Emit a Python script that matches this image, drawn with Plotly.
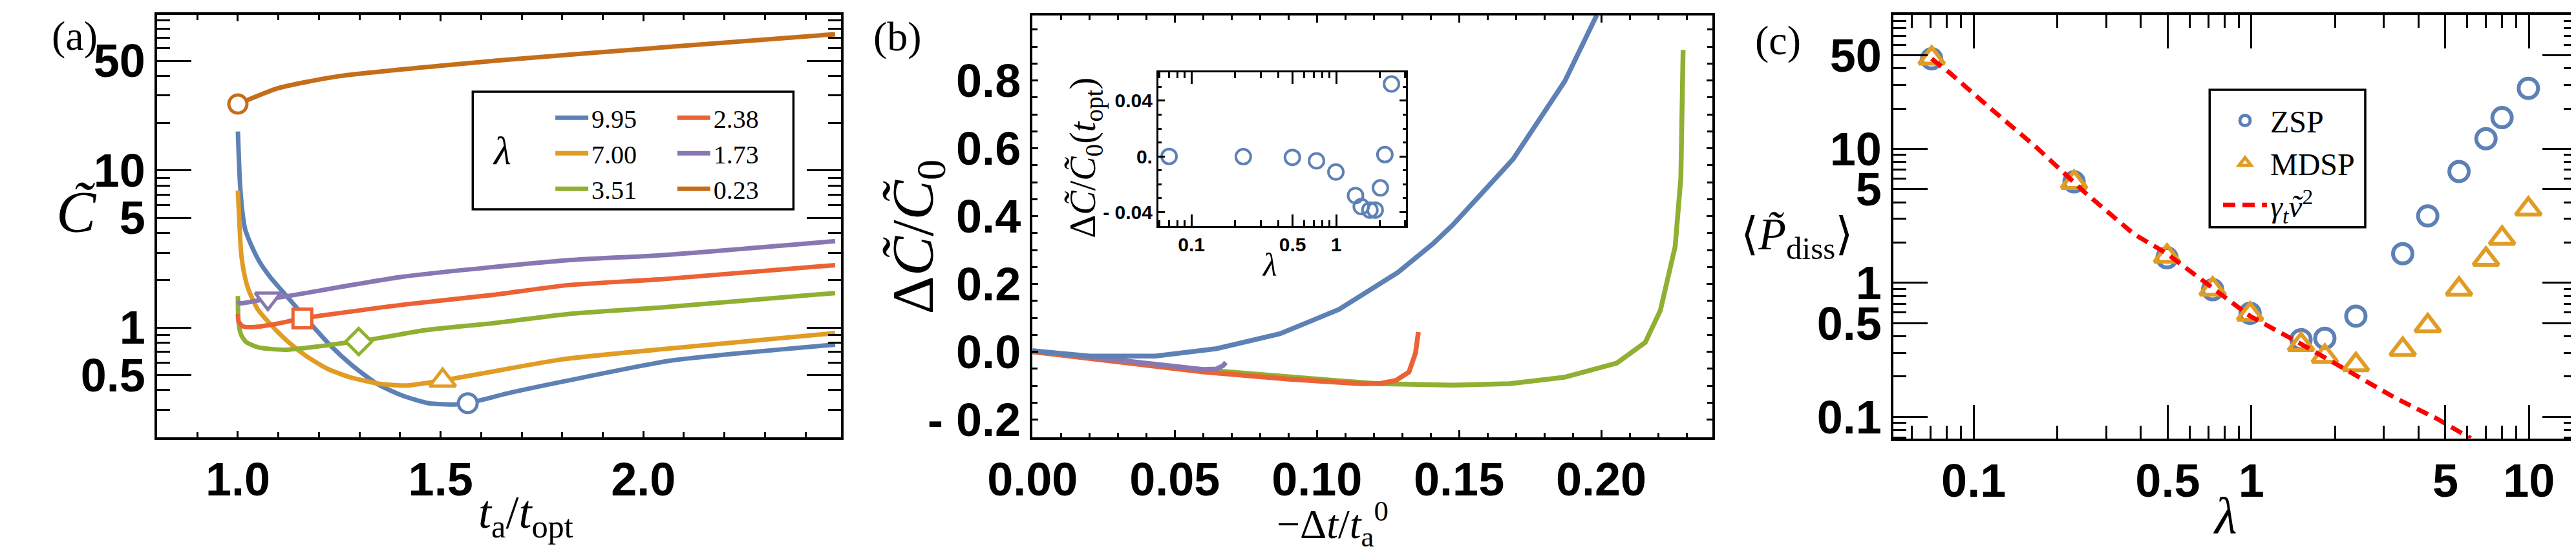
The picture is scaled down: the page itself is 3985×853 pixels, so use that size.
import plotly.graph_objects as go

W, H = 3985, 853

# ---------------- data: panel (a) ----------------
lam_a = ["9.95", "7.00", "3.51", "2.38", "1.73", "0.23"]

a_x_995 = [1.0, 1.005, 1.0105, 1.018, 1.032, 1.053, 1.079, 1.111, 1.143, 1.185, 1.228, 1.280, 1.344, 1.407, 1.471, 1.535, 1.567, 1.672, 1.810, 2.070, 2.473]
a_y_995 = [17.7, 8.44, 5.61, 4.22, 3.39, 2.63, 2.11, 1.69, 1.36, 1.02, 0.77, 0.58, 0.437, 0.368, 0.330, 0.324, 0.330, 0.385, 0.458, 0.618, 0.78]

a_x_700 = [1.0, 1.004, 1.008, 1.016, 1.026, 1.048, 1.079, 1.122, 1.169, 1.222, 1.280, 1.354, 1.418, 1.505, 1.619, 1.802, 2.137, 2.473]
a_y_700 = [7.45, 4.5, 2.99, 2.18, 1.75, 1.32, 1.06, 0.82, 0.658, 0.545, 0.48, 0.437, 0.428, 0.461, 0.52, 0.629, 0.767, 0.922]

a_x_351 = [1.0, 1.0015, 1.008, 1.021, 1.053, 1.116, 1.196, 1.259, 1.298, 1.461, 1.634, 1.810, 2.054, 2.473]
a_y_351 = [1.59, 1.09, 0.90, 0.807, 0.746, 0.723, 0.758, 0.796, 0.815, 0.962, 1.07, 1.217, 1.35, 1.66]

a_x_238 = [1.0, 1.002, 1.013, 1.037, 1.090, 1.159, 1.408, 1.634, 1.810, 2.054, 2.473]
a_y_238 = [1.22, 1.09, 1.017, 1.007, 1.05, 1.143, 1.40, 1.62, 1.86, 2.04, 2.50]

a_x_173 = [1.0, 1.005, 1.074, 1.111, 1.408, 1.810, 2.054, 2.473]
a_y_173 = [1.47, 1.43, 1.53, 1.57, 2.11, 2.68, 2.90, 3.55]

a_x_023 = [1.0, 1.1, 1.25, 1.5, 1.634, 2.054, 2.473]
a_y_023 = [26.5, 33.5, 39.9, 46.5, 50.0, 61.0, 73.8]

# optimum markers, one per lambda
a_mark_x = [1.567, 1.505, 1.298, 1.159, 1.074, 1.0]
a_mark_y = [0.330, 0.461, 0.815, 1.143, 1.53, 26.5]

a_xtick_vals = [1.0, 1.5, 2.0]
a_xtick_text = ["1.0", "1.5", "2.0"]
a_ytick_vals = [0.5, 1, 5, 10, 50]
a_ytick_text = ["0.5", "1", "5", "10", "50"]

# ---------------- data: panel (b) ----------------
b_x_blue = [0.0, 0.0201, 0.0432, 0.0647, 0.0870, 0.1078, 0.1285, 0.1410, 0.1478, 0.169, 0.1872, 0.1984]
b_y_blue = [0.003, -0.0125, -0.0125, 0.0094, 0.0532, 0.125, 0.234, 0.32, 0.374, 0.568, 0.798, 0.992]

b_x_green = [0.0, 0.030, 0.060, 0.1062, 0.1216, 0.1478, 0.1678, 0.187, 0.2055, 0.2155, 0.2208, 0.2239, 0.2260, 0.2280, 0.2288]
b_y_green = [0.0, -0.027, -0.053, -0.0844, -0.0938, -0.0982, -0.0938, -0.075, -0.0332, 0.028, 0.122, 0.2345, 0.31, 0.512, 0.890]

b_x_red = [0.0, 0.030, 0.060, 0.0909, 0.1155, 0.1225, 0.1278, 0.1324, 0.1347, 0.1357]
b_y_red = [0.0, -0.029, -0.0594, -0.0813, -0.0938, -0.093, -0.0844, -0.0594, -0.003, 0.0584]

b_x_purple = [0.0, 0.0293, 0.060, 0.0646, 0.067, 0.068]
b_y_purple = [0.003, -0.025, -0.052, -0.0507, -0.0407, -0.0313]

b_xtick_vals = [0.0, 0.05, 0.10, 0.15, 0.20]
b_xtick_text = ["0.00", "0.05", "0.10", "0.15", "0.20"]
b_ytick_vals = [-0.2, 0.0, 0.2, 0.4, 0.6, 0.8]
b_ytick_text = ["- 0.2", "0.0", "0.2", "0.4", "0.6", "0.8"]

# inset of panel (b)
ins_lam = [0.070, 0.228, 0.498, 0.731, 0.995, 1.36, 1.49, 1.71, 1.86, 2.02, 2.17, 2.41]
ins_val = [0.0, -0.0002, -0.0007, -0.0032, -0.0112, -0.0281, -0.036, -0.0385, -0.0385, -0.0226, 0.0013, 0.052]
ins_xtick_vals = [0.1, 0.5, 1]
ins_xtick_text = ["0.1", "0.5", "1"]
ins_ytick_vals = [-0.04, 0.0, 0.04]
ins_ytick_text = ["- 0.04", "0.", "0.04"]

# ---------------- data: panel (c) ----------------
c_lam = [0.0706, 0.23, 0.497, 0.726, 0.99, 1.51, 1.84, 2.38, 3.51, 4.32, 5.60, 7.00, 8.0, 9.95]
c_zsp = [47.0, 5.68, 1.54, 0.89, 0.593, 0.377, 0.386, 0.565, 1.65, 3.16, 6.78, 11.9, 17.1, 28.3]
c_mdsp = [47.5, 5.62, 1.58, 0.898, 0.584, 0.346, 0.283, 0.245, 0.319, 0.478, 0.898, 1.50, 2.15, 3.55]
c_fit_lam = [0.0706, 0.0819, 0.112, 0.168, 0.251, 0.376, 0.497, 0.726, 0.99, 1.48, 2.35, 3.31, 4.68, 6.17]
c_fit_val = [47.0, 37.0, 21.0, 10.3, 4.75, 2.33, 1.65, 0.911, 0.565, 0.359, 0.207, 0.138, 0.0966, 0.0692]

c_xtick_vals = [0.1, 0.5, 1, 5, 10]
c_xtick_text = ["0.1", "0.5", "1", "5", "10"]
c_ytick_vals = [0.1, 0.5, 1, 5, 10, 50]
c_ytick_text = ["0.1", "0.5", "1", "5", "10", "50"]

# log minor ticks
minor_log_a_y = [0.2, 0.3, 0.4, 0.6, 0.7, 0.8, 0.9, 2, 3, 4, 6, 7, 8, 9, 20, 30, 40, 60, 70, 80, 90]
minor_log_c_x = [0.06, 0.07, 0.08, 0.09, 0.2, 0.3, 0.4, 0.6, 0.7, 0.8, 0.9, 2, 3, 4, 6, 7, 8, 9]
minor_log_c_y = [0.07, 0.08, 0.09, 0.2, 0.3, 0.4, 0.6, 0.7, 0.8, 0.9, 2, 3, 4, 6, 7, 8, 9, 20, 30, 40, 60, 70, 80, 90]
minor_log_ins_x = [0.06, 0.07, 0.08, 0.09, 0.2, 0.3, 0.4, 0.6, 0.7, 0.8, 0.9, 2, 3]

# ---------------- styling ----------------
BLUE, ORANGE, GREEN = "#5E81B5", "#E19C24", "#8FB032"
RED, PURPLE, BROWN = "#EB6235", "#8778B3", "#C56E1A"
SERIF = "Liberation Serif, DejaVu Serif, serif"
SANS = "Liberation Sans, Arial, sans-serif"
TICKFONT = dict(family=SANS, size=72, color="black", weight="bold")
CT = "<i>C\u0303</i>"   # C with tilde


def px(v):
    return v / W


def py(v):
    return 1 - v / H


fig = go.Figure()

# panel (a) curves
a_series = [
    (lam_a[0], a_x_995, a_y_995, BLUE, "legend"),
    (lam_a[1], a_x_700, a_y_700, ORANGE, "legend"),
    (lam_a[2], a_x_351, a_y_351, GREEN, "legend"),
    (lam_a[3], a_x_238, a_y_238, RED, "legend2"),
    (lam_a[4], a_x_173, a_y_173, PURPLE, "legend2"),
    (lam_a[5], a_x_023, a_y_023, BROWN, "legend2"),
]
for name, xs, ys, col, leg in a_series:
    fig.add_trace(go.Scatter(x=xs, y=ys, mode="lines", name=name, legend=leg,
                             line=dict(color=col, width=7, shape="spline", smoothing=0.6),
                             xaxis="x", yaxis="y"))

fig.add_trace(go.Scatter(
    x=a_mark_x, y=a_mark_y, mode="markers", showlegend=False, xaxis="x", yaxis="y",
    marker=dict(symbol=["circle", "triangle-up", "diamond", "square", "triangle-down", "circle"],
                size=[29, 35, 31, 29, 34, 28], color="white", opacity=1,
                line=dict(color=[BLUE, ORANGE, GREEN, RED, PURPLE, BROWN], width=5))))

# panel (b) curves
for xs, ys, col in [(b_x_green, b_y_green, GREEN), (b_x_red, b_y_red, RED),
                    (b_x_purple, b_y_purple, PURPLE), (b_x_blue, b_y_blue, BLUE)]:
    fig.add_trace(go.Scatter(x=xs, y=ys, mode="lines", showlegend=False,
                             line=dict(color=col, width=7.5),
                             xaxis="x2", yaxis="y2"))

# inset
fig.add_trace(go.Scatter(x=ins_lam, y=ins_val, mode="markers", showlegend=False,
                         marker=dict(symbol="circle-open", size=23, color=BLUE, line=dict(width=4)),
                         xaxis="x4", yaxis="y4"))

# panel (c)
fig.add_trace(go.Scatter(x=c_lam, y=c_zsp, mode="markers", name="ZSP", legend="legend3",
                         marker=dict(symbol="circle-open", size=30, color=BLUE, line=dict(width=6)),
                         xaxis="x3", yaxis="y3"))
fig.add_trace(go.Scatter(x=c_lam, y=c_mdsp, mode="markers", name="MDSP", legend="legend3",
                         marker=dict(symbol="triangle-up-open", size=34, color=ORANGE, line=dict(width=6)),
                         xaxis="x3", yaxis="y3"))
fig.add_trace(go.Scatter(x=c_fit_lam, y=c_fit_val, mode="lines",
                         name="<i>γ<sub>t</sub>ṽ</i><sup>2</sup>", legend="legend3",
                         line=dict(color="#FF0000", width=7, dash="19px,11px"),
                         xaxis="x3", yaxis="y3"))

common = dict(showline=True, linecolor="black", linewidth=3.5, mirror="ticks", ticks="inside",
              tickcolor="black", tickwidth=3, showgrid=False, zeroline=False, tickfont=TICKFONT)

fig.update_layout(
    width=W, height=H, margin=dict(l=0, r=0, t=0, b=0),
    paper_bgcolor="white", plot_bgcolor="white",
    xaxis=dict(common, domain=[px(168), px(1244.6)], range=[0.8008, 2.487], anchor="y",
               tickmode="array", tickvals=a_xtick_vals, ticktext=a_xtick_text, ticklen=10,
               minor=dict(tick0=0, dtick=0.1, ticks="inside", ticklen=8, tickwidth=3, tickcolor="black")),
    yaxis=dict(common, domain=[py(679), py(15)], type="log", range=[-0.697, 1.992], anchor="x",
               tickmode="array", tickvals=a_ytick_vals, ticktext=a_ytick_text, ticklen=53,
               minor=dict(tickmode="array", tickvals=minor_log_a_y, ticks="inside", ticklen=20,
                          tickwidth=3, tickcolor="black")),
    xaxis2=dict(common, domain=[px(1546.5), px(2617)], range=[0, 0.2391], anchor="y2",
                tickmode="array", tickvals=b_xtick_vals, ticktext=b_xtick_text, ticklen=11,
                minor=dict(tick0=0, dtick=0.01, ticks="inside", ticklen=7, tickwidth=3, tickcolor="black")),
    yaxis2=dict(common, domain=[py(679), py(16)], range=[-0.2514, 0.9919], anchor="x2",
                tickmode="array", tickvals=b_ytick_vals, ticktext=b_ytick_text, ticklen=9,
                minor=dict(tick0=0, dtick=0.05, ticks="inside", ticklen=8, tickwidth=3, tickcolor="black")),
    xaxis3=dict(common, domain=[px(2902), px(3978)], type="log", range=[-1.289, 1.172], anchor="y3",
                tickmode="array", tickvals=c_xtick_vals, ticktext=c_xtick_text, ticklen=52,
                minor=dict(tickmode="array", tickvals=minor_log_c_x, ticks="inside", ticklen=20,
                           tickwidth=3, tickcolor="black")),
    yaxis3=dict(common, domain=[py(681), py(15)], type="log", range=[-1.160, 2.001], anchor="x3",
                tickmode="array", tickvals=c_ytick_vals, ticktext=c_ytick_text, ticklen=53,
                minor=dict(tickmode="array", tickvals=minor_log_c_y, ticks="inside", ticklen=20,
                           tickwidth=3, tickcolor="black")),
    xaxis4=dict(common, domain=[px(1744.6), px(2135)], type="log", range=[-1.229, 0.4845], anchor="y4",
                tickmode="array", tickvals=ins_xtick_vals, ticktext=ins_xtick_text, ticklen=18,
                linewidth=3, tickwidth=2.5,
                tickfont=dict(family=SANS, size=30, color="black", weight="bold"),
                minor=dict(tickmode="array", tickvals=minor_log_ins_x, ticks="inside", ticklen=9,
                           tickwidth=2.5, tickcolor="black")),
    yaxis4=dict(common, domain=[py(347), py(106)], range=[-0.0499, 0.0602], anchor="x4",
                tickmode="array", tickvals=ins_ytick_vals, ticktext=ins_ytick_text, ticklen=10,
                linewidth=3, tickwidth=2.5, ticklabelstandoff=0,
                tickfont=dict(family=SANS, size=30, color="black", weight="bold"),
                minor=dict(tick0=0, dtick=0.01, ticks="inside", ticklen=5, tickwidth=2.5, tickcolor="black")),
    legend=dict(x=px(790), y=py(144), xanchor="left", yanchor="top", bgcolor="rgba(0,0,0,0)",
                borderwidth=0, itemwidth=51, font=dict(family=SERIF, size=40, color="black")),
    legend2=dict(x=px(982), y=py(144), xanchor="left", yanchor="top", bgcolor="rgba(0,0,0,0)",
                 borderwidth=0, itemwidth=51, font=dict(family=SERIF, size=40, color="black")),
    legend3=dict(x=px(3416), y=py(143), xanchor="left", yanchor="top", bgcolor="rgba(0,0,0,0)",
                 borderwidth=0, itemwidth=68, font=dict(family=SERIF, size=48, color="black")),
    shapes=[
        dict(type="rect", xref="paper", yref="paper", x0=px(665), x1=px(1170), y0=py(321), y1=py(136),
             line=dict(color="black", width=3.5)),
        dict(type="rect", xref="paper", yref="paper", x0=px(3400), x1=px(3645), y0=py(349), y1=py(133),
             line=dict(color="black", width=3.5)),
    ],
)


def ann(text, x, y, size, angle=0, family=SERIF):
    return dict(text=text, x=px(x), y=py(y), xref="paper", yref="paper", showarrow=False,
                xanchor="center", yanchor="middle", textangle=angle,
                font=dict(family=family, size=size, color="black"))


fig.update_layout(annotations=[
    ann("(a)", 38, 48, 64),
    ann("(b)", 1334, 49, 64),
    ann("(c)", 2720, 55, 64),
    ann(CT, 41, 325, 92),
    ann("<i>t</i><sub>a</sub>/<i>t</i><sub>opt</sub>", 749, 802, 72),
    ann("Δ" + CT + "/" + CT + "<sub>0</sub>", 1364, 364, 92, angle=-90),
    ann("−Δ<i>t</i>/<i>t</i><sub>a</sub><sup>0</sup>", 2019, 815, 64),
    ann("⟨<i>P\u0303</i><sub>diss</sub>⟩", 2750, 366, 70),
    ann("<i>λ</i>", 3425, 802, 80),
    ann("Δ" + CT + "/" + CT + "<sub>0</sub>(<i>t</i><sub>opt</sub>)", 1630, 240, 56, angle=-90),
    ann("<i>λ</i>", 1920, 408, 50),
    ann("<i>λ</i>", 711, 228, 62),
])

fig.write_html("out.html")
